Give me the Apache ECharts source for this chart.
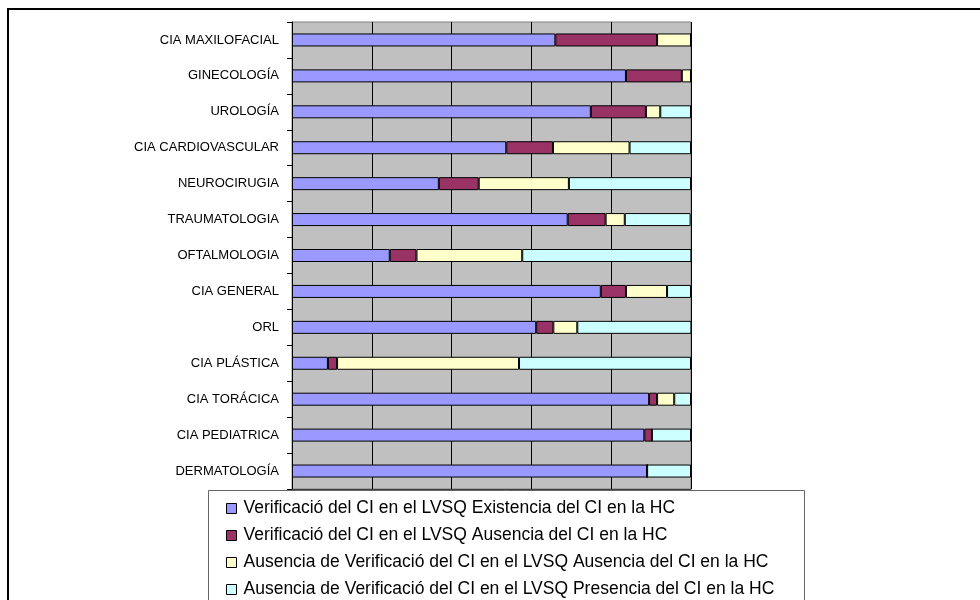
<!DOCTYPE html>
<html>
<head>
<meta charset="utf-8">
<script src="https://cdn.jsdelivr.net/npm/echarts@6/dist/echarts.min.js"></script>
<style>
html,body{margin:0;padding:0;background:#fff;}
#chart{width:980px;height:600px;}
</style>
</head>
<body>
<div id="chart"></div>
<script>
var categories = ["CIA MAXILOFACIAL","GINECOLOGÍA","UROLOGÍA","CIA CARDIOVASCULAR","NEUROCIRUGIA","TRAUMATOLOGIA","OFTALMOLOGIA","CIA GENERAL","ORL","CIA PLÁSTICA","CIA TORÁCICA","CIA PEDIATRICA","DERMATOLOGÍA"];
var seriesNames = [
  "Verificació del CI en el LVSQ Existencia del CI en la HC",
  "Verificació del CI en el LVSQ Ausencia del CI en la HC",
  "Ausencia de Verificació del CI en el LVSQ Ausencia del CI en la HC",
  "Ausencia de Verificació del CI en el LVSQ Presencia del CI en la HC"
];
var verifExistencia = [66.0, 83.7, 74.9, 53.7, 36.8, 69.1, 24.5, 77.4, 61.2, 9.0, 89.5, 88.3, 89.0];
var verifAusencia   = [25.5, 14.0, 13.8, 11.7, 10.0, 9.5, 6.7, 6.3, 4.3, 2.3, 2.0, 1.9, 0];
var noVerifAusencia = [8.5, 2.3, 3.6, 19.2, 22.6, 4.8, 26.5, 10.3, 6.0, 45.6, 4.3, 0, 0];
var noVerifPresencia= [0, 0, 7.7, 15.4, 30.6, 16.5, 42.4, 6.0, 28.6, 43.1, 4.2, 9.8, 11.0];
var xTicks = [0, 20, 40, 60, 80, 100];

var colors = ["#9999FF", "#993366", "#FFFFCC", "#CCFFFF"];
var values = [verifExistencia, verifAusencia, noVerifAusencia, noVerifPresencia];

var chart = echarts.init(document.getElementById('chart'));
var series = seriesNames.map(function(n, i){
  return {
    name: n, type: 'bar', stack: 'total', barWidth: 13,
    itemStyle: {color: colors[i], borderColor: '#000', borderWidth: 1},
    data: values[i]
  };
});
chart.setOption({
  animation: false,
  textStyle: {fontFamily: 'Liberation Sans, Arial, sans-serif'},
  grid: {left: 292, right: 289, top: 22, bottom: 111, show: true, backgroundColor: '#C0C0C0', borderColor: '#808080', borderWidth: 1},
  xAxis: {
    type: 'value', min: xTicks[0], max: xTicks[xTicks.length-1], interval: 20,
    axisLabel: {show: false}, axisTick: {show: false},
    axisLine: {show: true, lineStyle: {color: '#404040'}},
    splitLine: {show: true, lineStyle: {color: '#000', width: 1}}
  },
  yAxis: {
    type: 'category', data: categories, inverse: true,
    axisLine: {show: true, lineStyle: {color: '#000'}},
    axisTick: {show: true, length: 5, lineStyle: {color: '#000'}},
    axisLabel: {margin: 13, fontSize: 13, color: '#000', fontFamily: 'Liberation Sans, Arial, sans-serif'},
    splitLine: {show: false}
  },
  legend: {
    orient: 'vertical', left: 226, top: 499, z: 200, padding: 0,
    icon: 'rect', itemWidth: 10, itemHeight: 10, itemGap: 8,
    itemStyle: {borderColor: '#000', borderWidth: 1},
    textStyle: {fontSize: 17.5, lineHeight: 19, color: '#000', fontFamily: 'Liberation Sans, Arial, sans-serif', padding: [0,0,0,2]},
    data: seriesNames
  },
  graphic: [
    {type: 'rect', z: 150, shape: {x: 208.5, y: 490.5, width: 596, height: 200}, style: {fill: '#fff', stroke: '#666', lineWidth: 1}},
    {type: 'rect', z: 150, shape: {x: 8, y: 9, width: 1000, height: 1000}, style: {fill: 'none', stroke: '#000', lineWidth: 2}}
  ],
  series: series
});
</script>
</body>
</html>
